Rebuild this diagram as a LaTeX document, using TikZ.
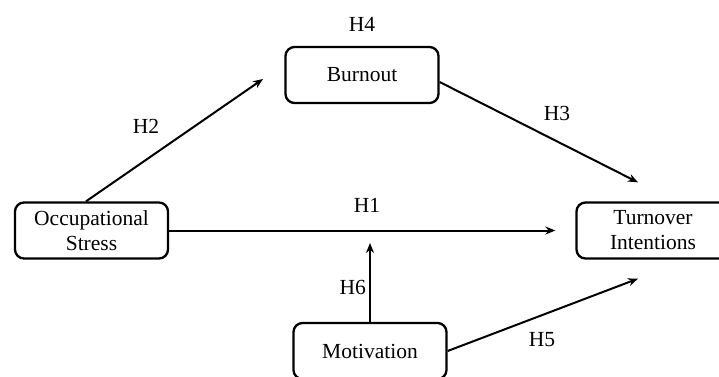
\documentclass[tikz,border=0pt]{standalone}
\usepackage{fontspec}
\setmainfont{Liberation Serif}
\usetikzlibrary{positioning,arrows.meta}
\tikzset{
  var/.style={draw, rounded corners=9pt, line width=2.3pt, minimum width=153pt,
    minimum height=56pt, inner sep=0pt, align=center,
    font=\fontsize{21.5}{25}\selectfont},
  link/.style={line width=2pt, -{Stealth[length=10pt,width=8pt]}},
  hyp/.style={font=\fontsize{21.5}{25}\selectfont, inner sep=0pt}
}
\begin{document}
\begin{tikzpicture}[x=1pt,y=1pt]
  \useasboundingbox (0,0) rectangle (719,376);
  \clip (0,0) rectangle (719,376);

  \node[var] (stress)     at (91.5,145.5) {Occupational\\Stress}; %
  \node[var] (burnout)    at (362,301)    {Burnout}; %
  \node[var] (turnover)   at (653,145.5)  {Turnover\\Intentions}; %
  \node[var] (motivation) at (370,25)     {Motivation}; %

  \coordinate (h2-end) at (263,297);
  \coordinate (h6-end) at (370,133);

  \draw[link] ([xshift=-5.5pt]stress.north) -- (h2-end); %
  \draw[link] ([yshift=-7pt]burnout.east) -- ([xshift=-15pt,yshift=19pt]turnover.north); %
  \draw[link] (stress.east) -- ([xshift=-20pt]turnover.west); %
  \draw[link] (motivation.north) -- (h6-end); %
  \draw[link] (motivation.east) -- ([xshift=-15pt,yshift=-19pt]turnover.south); %

  \node[hyp] (h1) at (367,171) {H1};
  \node[hyp] (h2) at (146,250) {H2};
  \node[hyp] (h3) at (557,263) {H3};
  \node[hyp, above=14pt of burnout] (h4) {H4};
  \node[hyp] (h5) at (542,36)  {H5};
  \node[hyp, left=4pt of h6-end, yshift=-44pt] (h6) {H6};
\end{tikzpicture}
\end{document}
